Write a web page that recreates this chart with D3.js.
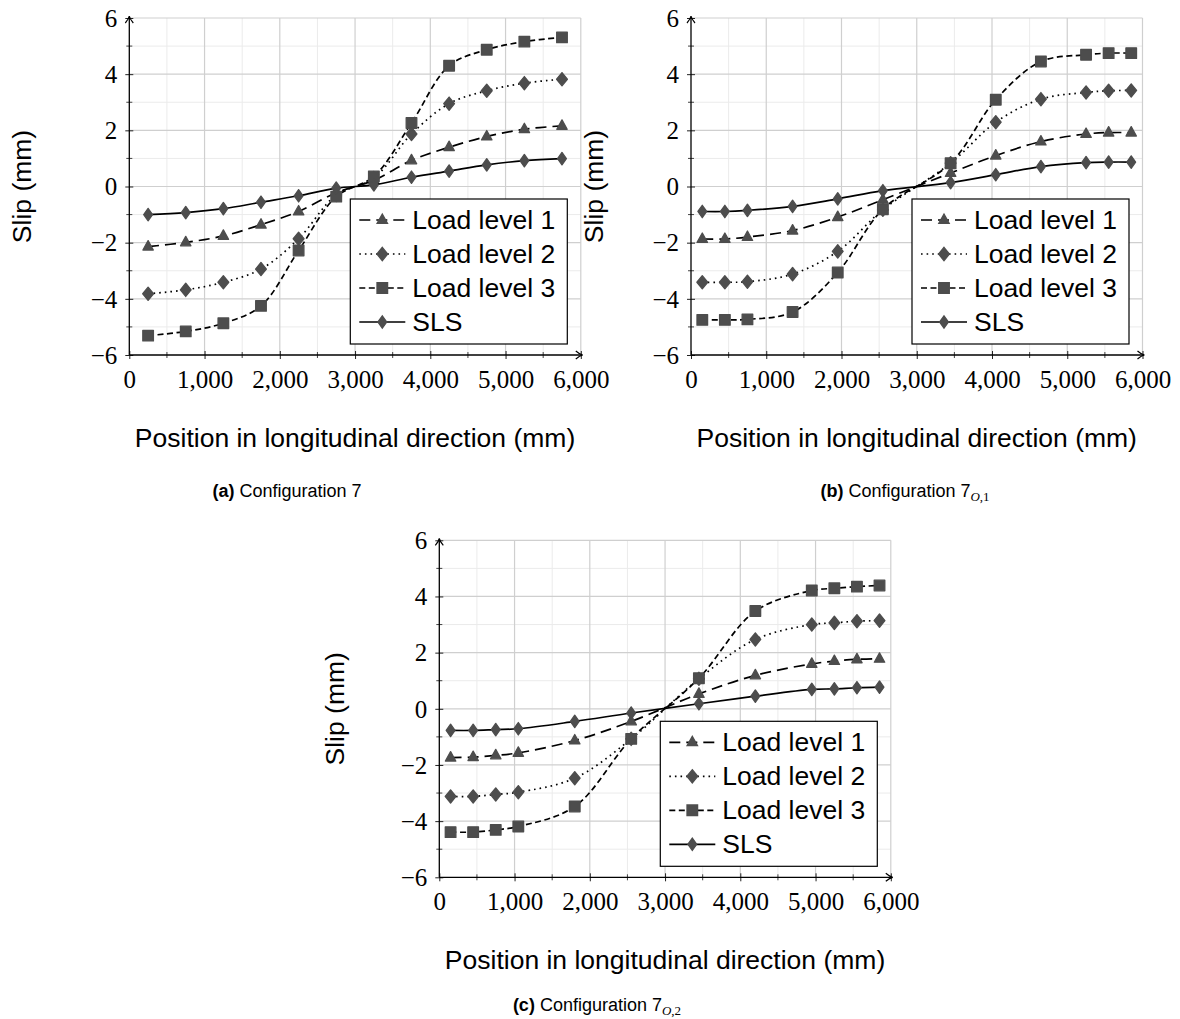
<!DOCTYPE html>
<html><head><meta charset="utf-8">
<script src="https://cdn.jsdelivr.net/npm/d3@7/dist/d3.min.js"></script>
<style>body{margin:0;background:#fff}svg{display:block}</style>
</head><body>
<svg id="chart" width="1180" height="1019"></svg>
<script>
// ---------- data ----------
const seriesNames = ["Load level 1", "Load level 2", "Load level 3", "SLS"];
const xTicks = [0, 1000, 2000, 3000, 4000, 5000, 6000];
const yTicks = [-6, -4, -2, 0, 2, 4, 6];
const captions = ["(a)", "(b)", "(c)"];
const captionText = ["Configuration 7", "Configuration 7", "Configuration 7"];
const captionSub = ["", "O", "O"];
const captionSubNum = ["", ",1", ",2"];

const posA = [250, 750, 1250, 1750, 2250, 2750, 3250, 3750, 4250, 4750, 5250, 5750];
const ll1A = [-2.14, -1.99, -1.76, -1.36, -0.89, -0.22, 0.22, 0.93, 1.40, 1.78, 2.04, 2.16];
const ll2A = [-3.82, -3.68, -3.41, -2.94, -1.86, -0.30, 0.30, 1.87, 2.95, 3.41, 3.68, 3.82];
const ll3A = [-5.31, -5.16, -4.87, -4.25, -2.28, -0.36, 0.36, 2.26, 4.30, 4.87, 5.16, 5.31];
const slsA = [-1.00, -0.93, -0.79, -0.56, -0.33, -0.06, 0.06, 0.33, 0.55, 0.77, 0.92, 0.99];

const posB = [150, 450, 750, 1350, 1950, 2550, 3450, 4050, 4650, 5250, 5550, 5850];
const ll1B = [-1.87, -1.87, -1.80, -1.57, -1.09, -0.47, 0.48, 1.10, 1.60, 1.87, 1.92, 1.92];
const ll2B = [-3.41, -3.41, -3.39, -3.12, -2.31, -0.83, 0.83, 2.29, 3.11, 3.35, 3.41, 3.42];
const ll3B = [-4.75, -4.75, -4.73, -4.47, -3.06, -0.81, 0.83, 3.09, 4.45, 4.69, 4.75, 4.75];
const slsB = [-0.89, -0.89, -0.85, -0.71, -0.44, -0.15, 0.14, 0.42, 0.71, 0.85, 0.87, 0.87];

const posC = [150, 450, 750, 1050, 1800, 2550, 3450, 4200, 4950, 5250, 5550, 5850];
const ll1C = [-1.74, -1.72, -1.66, -1.57, -1.13, -0.45, 0.53, 1.19, 1.60, 1.70, 1.76, 1.78];
const ll2C = [-3.12, -3.12, -3.05, -2.97, -2.47, -1.07, 1.07, 2.47, 3.00, 3.06, 3.12, 3.14];
const ll3C = [-4.39, -4.39, -4.31, -4.19, -3.48, -1.07, 1.09, 3.48, 4.21, 4.29, 4.35, 4.39];
const slsC = [-0.77, -0.77, -0.74, -0.71, -0.45, -0.15, 0.18, 0.45, 0.69, 0.71, 0.75, 0.77];

// ---------- layout / style ----------
const panels = [
  {pos: posA, series: [ll1A, ll2A, ll3A, slsA], left: 129.3, top: 18, capX: 287, capY: 497, ylab: -98},
  {pos: posB, series: [ll1B, ll2B, ll3B, slsB], left: 691, top: 18, capX: 905, capY: 497, ylab: -88},
  {pos: posC, series: [ll1C, ll2C, ll3C, slsC], left: 439.3, top: 540.3, capX: 597, capY: 1011, ylab: -95}
];
const PW = 451.5, PH = 337;
const markColor = "#4d4d4d";
const dashes = ["11,6", "1.6,4", "6,3.5", null];
const markers = [
  "M0,-6L5.2,3.4L-5.2,3.4Z",
  "M0,-6.6L5.4,0L0,6.6L-5.4,0Z",
  "M-5.3,-5.3H5.3V5.3H-5.3Z",
  "M0,-6.2L4.4,0L0,6.2L-4.4,0Z"
];
const serif = "'Liberation Serif', 'DejaVu Serif', serif";
const sans = "'Liberation Sans', Arial, sans-serif";

const svg = d3.select("#chart");
svg.append("rect").attr("width", 1180).attr("height", 1019).attr("fill", "#fff");

panels.forEach((p, pi) => {
  const x = d3.scaleLinear().domain([0, 6000]).range([p.left, p.left + PW]);
  const y = d3.scaleLinear().domain([-6, 6]).range([p.top + PH, p.top]);
  const g = svg.append("g");

  // minor grid
  const minorX = d3.range(500, 6000, 1000);
  const minorY = d3.range(-5, 6, 2);
  g.selectAll(".mgx").data(minorX).join("line")
    .attr("x1", d => x(d)).attr("x2", d => x(d)).attr("y1", y(-6)).attr("y2", y(6))
    .attr("stroke", "#ebebeb").attr("stroke-width", 1);
  g.selectAll(".mgy").data(minorY).join("line")
    .attr("x1", x(0)).attr("x2", x(6000)).attr("y1", d => y(d)).attr("y2", d => y(d))
    .attr("stroke", "#ebebeb").attr("stroke-width", 1);
  // major grid
  g.selectAll(".gx").data(xTicks.slice(1)).join("line")
    .attr("x1", d => x(d)).attr("x2", d => x(d)).attr("y1", y(-6)).attr("y2", y(6))
    .attr("stroke", "#cfcfcf").attr("stroke-width", 1.2);
  g.selectAll(".gy").data(yTicks.slice(1)).join("line")
    .attr("x1", x(0)).attr("x2", x(6000)).attr("y1", d => y(d)).attr("y2", d => y(d))
    .attr("stroke", "#cfcfcf").attr("stroke-width", 1.2);

  // axes: ticks and labels via d3 axes
  const ax = g.append("g").attr("transform", `translate(0,${y(-6)})`)
    .call(d3.axisBottom(x).tickValues(xTicks).tickFormat(d3.format(",")).tickSizeInner(4).tickSizeOuter(0));
  ax.select(".domain").remove();
  ax.selectAll(".tick line").attr("y1", -4).attr("y2", 4).attr("stroke", "#222");
  ax.selectAll(".tick text").attr("y", 33).attr("dy", null)
    .attr("font-family", serif).attr("font-size", 25).attr("fill", "#000");
  g.selectAll(".mtx").data(minorX).join("line")
    .attr("x1", d => x(d)).attr("x2", d => x(d)).attr("y1", y(-6) - 3).attr("y2", y(-6) + 3)
    .attr("stroke", "#444");

  const ay = g.append("g").attr("transform", `translate(${x(0)},0)`)
    .call(d3.axisLeft(y).tickValues(yTicks).tickFormat(d3.format("d")).tickSizeInner(4).tickSizeOuter(0));
  ay.select(".domain").remove();
  ay.selectAll(".tick line").attr("x1", -4).attr("x2", 4).attr("stroke", "#222");
  ay.selectAll(".tick text").attr("x", -12).attr("dy", "0.33em")
    .attr("font-family", serif).attr("font-size", 25).attr("fill", "#000");
  g.selectAll(".mty").data(minorY).join("line")
    .attr("x1", x(0) - 3).attr("x2", x(0) + 3).attr("y1", d => y(d)).attr("y2", d => y(d))
    .attr("stroke", "#444");

  // series lines
  const line = d3.line().x(d => x(d[0])).y(d => y(d[1])).curve(d3.curveCatmullRom.alpha(0.5));
  p.series.forEach((vals, si) => {
    const pts = p.pos.map((v, i) => [v, vals[i]]);
    g.append("path").attr("d", line(pts)).attr("fill", "none")
      .attr("stroke", "#000").attr("stroke-width", 1.7)
      .attr("stroke-dasharray", dashes[si]);
    g.selectAll(null).data(pts).join("path")
      .attr("d", markers[si])
      .attr("transform", d => `translate(${x(d[0])},${y(d[1])})`)
      .attr("fill", markColor).attr("stroke", markColor).attr("stroke-width", 1.3)
      .attr("stroke-linejoin", "round");
  });

  // axis lines with arrows
  g.append("line").attr("x1", x(0)).attr("x2", x(6000) + 1).attr("y1", y(-6)).attr("y2", y(-6))
    .attr("stroke", "#000").attr("stroke-width", 1.3);
  g.append("line").attr("x1", x(0)).attr("x2", x(0)).attr("y1", y(-6)).attr("y2", y(6) - 1)
    .attr("stroke", "#000").attr("stroke-width", 1.3);
  g.append("path").attr("d", `M${x(6000) - 5},${y(-6) - 4}Q${x(6000) - 1},${y(-6) - 0.5} ${x(6000) + 2},${y(-6)}Q${x(6000) - 1},${y(-6) + 0.5} ${x(6000) - 5},${y(-6) + 4}`)
    .attr("fill", "none").attr("stroke", "#000").attr("stroke-width", 1.2);
  g.append("path").attr("d", `M${x(0) - 4},${y(6) + 5}Q${x(0) - 0.5},${y(6) + 1} ${x(0)},${y(6) - 2}Q${x(0) + 0.5},${y(6) + 1} ${x(0) + 4},${y(6) + 5}`)
    .attr("fill", "none").attr("stroke", "#000").attr("stroke-width", 1.2);

  // axis titles
  g.append("text").attr("x", x(3000)).attr("y", y(-6) + 92)
    .attr("text-anchor", "middle").attr("font-family", sans).attr("font-size", 26.5)
    .text("Position in longitudinal direction (mm)");
  g.append("text").attr("transform", `translate(${x(0) + p.ylab},${y(0)}) rotate(-90)`)
    .attr("text-anchor", "middle").attr("font-family", sans).attr("font-size", 26.5)
    .text("Slip (mm)");

  // legend
  const LW = 217, LH = 145;
  const lx = x(6000) - 13.5 - LW, ly = y(-6) - 11 - LH;
  const lg = g.append("g").attr("transform", `translate(${lx},${ly})`);
  lg.append("rect").attr("width", LW).attr("height", LH).attr("fill", "#fff")
    .attr("stroke", "#000").attr("stroke-width", 1.2);
  seriesNames.forEach((name, si) => {
    const by = 30 + si * 34;
    const cy = by - 9;
    lg.append("line").attr("x1", 9).attr("x2", 55).attr("y1", cy).attr("y2", cy)
      .attr("stroke", "#000").attr("stroke-width", 1.7).attr("stroke-dasharray", dashes[si]);
    lg.append("path").attr("d", markers[si]).attr("transform", `translate(32,${cy})`)
      .attr("fill", markColor).attr("stroke", markColor).attr("stroke-width", 1.3);
    lg.append("text").attr("x", 62).attr("y", by).attr("font-family", sans)
      .attr("font-size", 26.5).text(name);
  });

  // caption
  const cap = svg.append("text").attr("x", p.capX).attr("y", p.capY)
    .attr("text-anchor", "middle").attr("font-family", sans).attr("font-size", 18);
  cap.append("tspan").attr("font-weight", "bold").text(captions[pi]);
  cap.append("tspan").text(" " + captionText[pi]);
  if (captionSub[pi]) {
    cap.append("tspan").attr("font-family", serif).attr("font-style", "italic")
      .attr("font-size", 13).attr("dy", 4).text(captionSub[pi]);
    cap.append("tspan").attr("font-family", serif).attr("font-size", 13).text(captionSubNum[pi]);
  }
});
</script>
</body></html>
